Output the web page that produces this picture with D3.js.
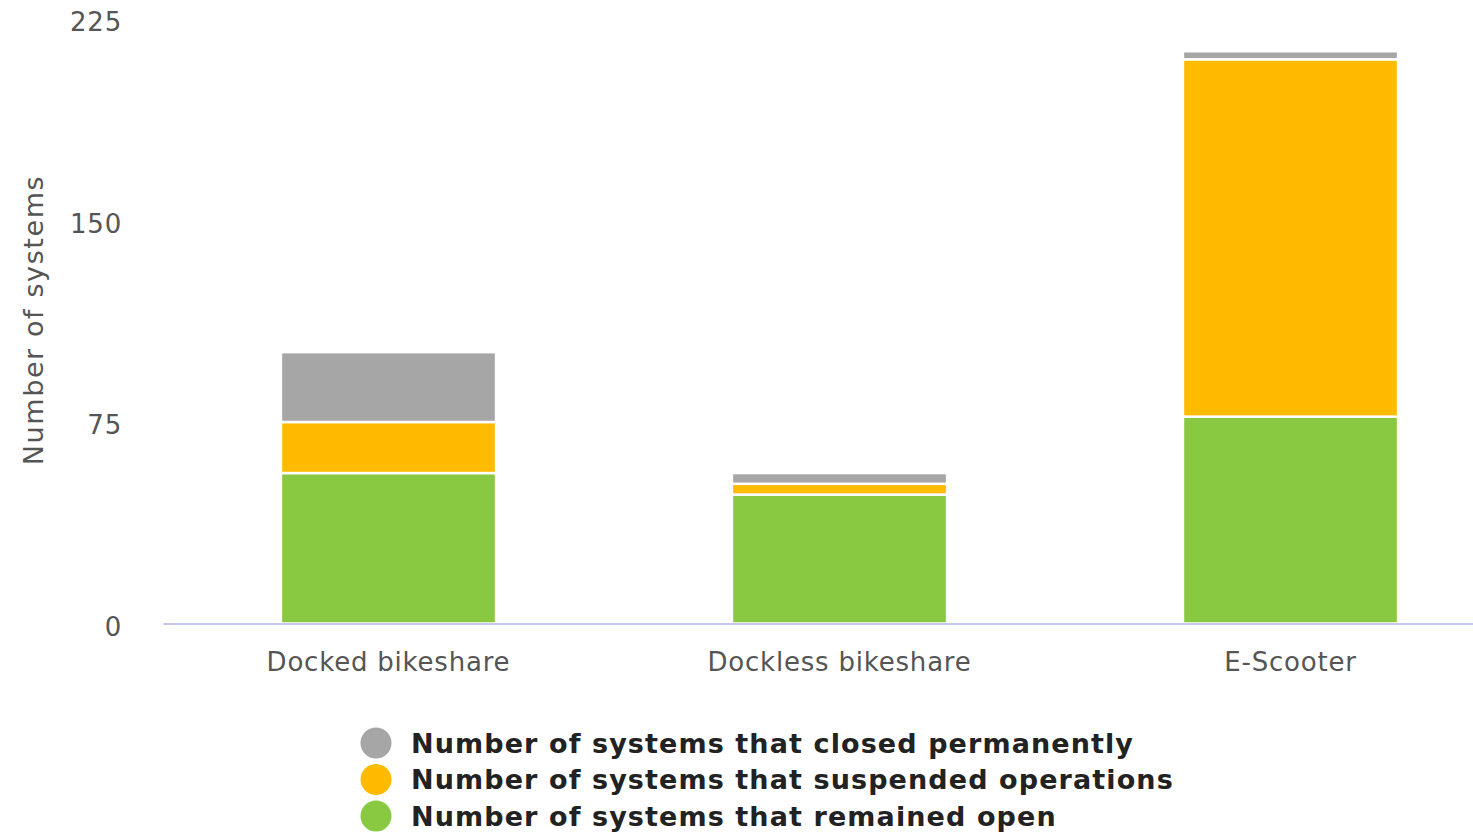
<!DOCTYPE html>
<html>
<head>
<meta charset="utf-8" />
<title>Systems by mode</title>
<script src="https://cdn.jsdelivr.net/npm/d3@7"></script>
<style>
  body { margin: 0; background: #fff; }
  text { font-family: "DejaVu Sans", Verdana, sans-serif; }
</style>
</head>
<body>
<script>
// data
var categories = ["Docked bikeshare", "Dockless bikeshare", "E-Scooter"];
var remainedOpen = [56, 48, 77];
var suspended = [19, 4, 133];
var closedPerm = [26, 4, 3];
var seriesNames = ["Number of systems that closed permanently",
                   "Number of systems that suspended operations",
                   "Number of systems that remained open"];
var yTicks = [0, 75, 150, 225];

var W = 1473, H = 835;
var svg = d3.select("body").append("svg")
    .attr("width", W)
    .attr("height", H);

var x = d3.scaleBand()
  .domain(categories)
  .range([163, 1516])
  .paddingInner(0.523)
  .paddingOuter(0.2615);

var y = d3.scaleLinear()
  .domain([0, 225])
  .range([623.5, 19]);

var rows = categories.map(function(c, i) {
  return { cat: c, open: remainedOpen[i], susp: suspended[i], shut: closedPerm[i] };
});
var keys = ["open", "susp", "shut"];
var colors = { open: "#88c941", susp: "#ffbb00", shut: "#a6a6a6" };
var stacked = d3.stack().keys(keys)(rows);

// bars
svg.append("g").selectAll("g")
  .data(stacked)
  .enter().append("g")
    .attr("fill", function(d) { return colors[d.key]; })
  .selectAll("rect")
  .data(function(d) { return d; })
  .enter().append("rect")
    .attr("x", function(d) { return x(d.data.cat); })
    .attr("y", function(d) { return y(d[1]); })
    .attr("width", x.bandwidth())
    .attr("height", function(d) { return y(d[0]) - y(d[1]); })
    .attr("stroke", "#fff")
    .attr("stroke-width", 2.5);

// x axis
var xAxis = svg.append("g")
  .attr("transform", "translate(0,623.5)")
  .call(d3.axisBottom(x).tickSize(0).tickPadding(29));
xAxis.select(".domain").attr("stroke", "#c8c8ee").attr("stroke-width", 2);
xAxis.selectAll("text")
  .attr("fill", "#555")
  .style("font-size", "26px")
  .style("font-family", "DejaVu Sans")
  .attr("letter-spacing", "0.8px");

// y axis (labels only)
var yAxis = svg.append("g")
  .attr("transform", "translate(122,0)")
  .call(d3.axisLeft(y).tickValues(yTicks).tickSize(0).tickPadding(0));
yAxis.select(".domain").remove();
yAxis.selectAll("text")
  .attr("fill", "#555")
  .attr("dy", "0.45em")
  .attr("letter-spacing", "0.8px")
  .style("font-size", "26px")
  .style("font-family", "DejaVu Sans");

svg.append("text")
  .attr("transform", "translate(43,320) rotate(-90)")
  .attr("text-anchor", "middle")
  .attr("fill", "#555")
  .attr("letter-spacing", "1.6px")
  .style("font-size", "27px")
  .text("Number of systems");

// legend
var legendColors = [colors.shut, colors.susp, colors.open];
var leg = svg.append("g").selectAll("g")
  .data(seriesNames)
  .enter().append("g")
    .attr("transform", function(d, i) { return "translate(376," + (743 + i * 36.5) + ")"; });
leg.append("circle")
  .attr("r", 15.5)
  .attr("fill", function(d, i) { return legendColors[i]; });
leg.append("text")
  .attr("x", 35)
  .attr("dy", "0.36em")
  .attr("fill", "#222")
  .style("font-size", "27px")
  .style("font-weight", "bold")
  .attr("letter-spacing", "1.1px")
  .text(function(d) { return d; });
</script>
</body>
</html>
